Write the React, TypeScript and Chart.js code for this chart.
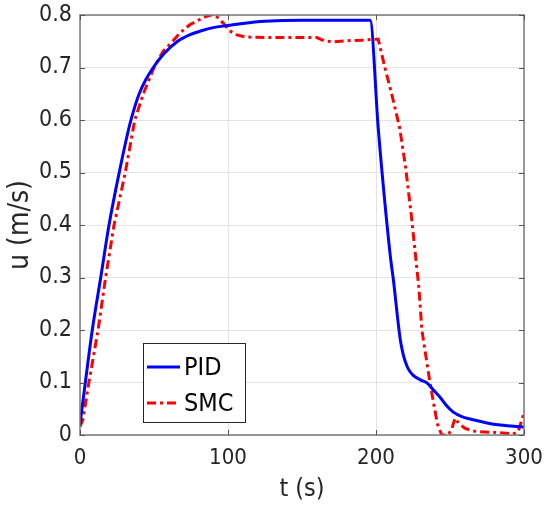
import React, { useEffect, useRef } from "react";
import { Chart, registerables } from "chart.js";

Chart.register(...registerables);

const tPID = [0, 3.6, 8.3, 14, 19.6, 26.5, 33.5, 37, 40, 44.5, 49.5, 57, 66, 74, 82, 90, 100, 110, 125, 150, 196, 201.6, 209.5, 212, 214.5, 216.5, 218.5, 220, 222, 225, 230, 235, 239, 243, 247, 252, 258, 265.7, 275, 284, 300];
const uPID = [0.02, 0.1, 0.2, 0.3, 0.4, 0.5, 0.59, 0.625, 0.65, 0.677, 0.7, 0.727, 0.75, 0.762, 0.77, 0.776, 0.78, 0.784, 0.788, 0.79, 0.79, 0.581, 0.345, 0.29, 0.225, 0.18, 0.152, 0.138, 0.125, 0.114, 0.105, 0.098, 0.085, 0.073, 0.058, 0.044, 0.035, 0.029, 0.023, 0.019, 0.015];

const tSMC = [0, 2, 6, 12.2, 17.3, 23, 30.6, 37, 42.8, 50, 56, 62.6, 68, 74, 80, 85, 89.5, 92, 96.6, 101, 106, 112, 130, 160, 165, 171, 180, 190, 201.5, 206, 211, 216, 220, 224, 226.5, 229, 231, 236.5, 241.4, 244.4, 248.6, 251, 253.4, 256, 260, 265, 270, 280, 292.6, 296, 300];
const uSMC = [0.016, 0.03, 0.1, 0.2, 0.3, 0.4, 0.5, 0.6, 0.65, 0.7, 0.73, 0.75, 0.767, 0.781, 0.79, 0.797, 0.801, 0.798, 0.785, 0.77, 0.762, 0.758, 0.757, 0.757, 0.751, 0.749, 0.751, 0.752, 0.754, 0.7, 0.645, 0.585, 0.51, 0.415, 0.347, 0.28, 0.2, 0.099, 0.022, 0, 0, 0.01, 0.032, 0.022, 0.013, 0.008, 0.006, 0.005, 0.002, 0.006, 0.042];

const xTicks = [0, 100, 200, 300];
const yTicks = [0, 0.1, 0.2, 0.3, 0.4, 0.5, 0.6, 0.7, 0.8];
const seriesNames = ["PID", "SMC"];
const xTitle = "t (s)";
const yTitle = "u (m/s)";

const FONT = "'DejaVu Sans Condensed', 'DejaVu Sans', sans-serif";

const framePlugin = {
  id: "frameLegend",
  afterDraw(chart: any) {
    const { ctx, chartArea: a } = chart;
    const xs = chart.scales.x;
    const ys = chart.scales.y;
    ctx.save();
    ctx.strokeStyle = "#7a7a7a";
    ctx.lineWidth = 1.5;
    ctx.strokeRect(a.left, a.top, a.right - a.left, a.bottom - a.top);
    ctx.strokeStyle = "#555";
    ctx.lineWidth = 1;
    ctx.beginPath();
    xTicks.forEach((v) => {
      const px = Math.round(xs.getPixelForValue(v)) + 0.5;
      ctx.moveTo(px, a.top);
      ctx.lineTo(px, a.top + 5);
      ctx.moveTo(px, a.bottom);
      ctx.lineTo(px, a.bottom - 5);
    });
    yTicks.forEach((v) => {
      const py = Math.round(ys.getPixelForValue(v)) + 0.5;
      ctx.moveTo(a.right, py);
      ctx.lineTo(a.right - 5, py);
      ctx.moveTo(a.left, py);
      ctx.lineTo(a.left + 5, py);
    });
    ctx.stroke();

    const bx = a.left + 63;
    const by = a.bottom - 92;
    const bw = 102;
    const bh = 79;
    ctx.fillStyle = "#ffffff";
    ctx.fillRect(bx, by, bw, bh);
    ctx.strokeStyle = "#262626";
    ctx.lineWidth = 1;
    ctx.strokeRect(bx + 0.5, by + 0.5, bw, bh);
    const ds = chart.data.datasets;
    ds.forEach((d: any, i: number) => {
      const cy = by + 24 + i * 36;
      ctx.beginPath();
      ctx.strokeStyle = d.borderColor;
      ctx.lineWidth = d.borderWidth;
      ctx.setLineDash(d.borderDash || []);
      ctx.moveTo(bx + 4, cy);
      ctx.lineTo(bx + 37, cy);
      ctx.stroke();
      ctx.setLineDash([]);
      ctx.fillStyle = "#000";
      ctx.font = `25px ${FONT}`;
      ctx.textBaseline = "middle";
      ctx.textAlign = "left";
      ctx.fillText(d.label, bx + 41, cy + 1);
    });
    ctx.restore();
  },
};

export default function App() {
  const ref = useRef<HTMLCanvasElement | null>(null);
  useEffect(() => {
    if (!ref.current) return;
    const chart = new Chart(ref.current, {
      type: "line",
      data: {
        datasets: [
          {
            label: seriesNames[0],
            data: tPID.map((t, i) => ({ x: t, y: uPID[i] })),
            borderColor: "#0000ff",
            borderWidth: 3,
            pointRadius: 0,
            cubicInterpolationMode: "monotone",
          },
          {
            label: seriesNames[1],
            data: tSMC.map((t, i) => ({ x: t, y: uSMC[i] })),
            borderColor: "#ff0000",
            borderWidth: 3,
            borderDash: [9, 4, 3, 4],
            pointRadius: 0,
            tension: 0,
          },
        ],
      },
      options: {
        animation: false,
        responsive: false,
        maintainAspectRatio: false,
        layout: { padding: { top: 15, right: 20, left: 0, bottom: 0 } },
        plugins: { legend: { display: false }, tooltip: { enabled: false } },
        scales: {
          x: {
            type: "linear",
            min: 0,
            max: 300,
            afterBuildTicks: (s: any) => {
              s.ticks = xTicks.map((v) => ({ value: v }));
            },
            afterFit: (s: any) => {
              s.height = 73;
              s.paddingLeft = 0;
              s.paddingRight = 0;
            },
            grid: { color: "#e3e3e3", drawTicks: false },
            border: { display: false },
            ticks: {
              color: "#262626",
              font: { family: FONT, size: 22 },
              padding: 10,
              maxRotation: 0,
            },
            title: {
              display: true,
              text: xTitle,
              color: "#262626",
              font: { family: FONT, size: 25 },
              padding: { top: 4, bottom: 4 },
            },
          },
          y: {
            type: "linear",
            min: 0,
            max: 0.8,
            afterBuildTicks: (s: any) => {
              s.ticks = yTicks.map((v) => ({ value: v }));
            },
            afterFit: (s: any) => {
              s.width = 80;
              s.paddingTop = 0;
              s.paddingBottom = 0;
            },
            grid: { color: "#e3e3e3", drawTicks: false },
            border: { display: false },
            ticks: {
              color: "#262626",
              font: { family: FONT, size: 23 },
              padding: 8,
              callback: (v: any) => String(Math.round(Number(v) * 10) / 10),
            },
            title: {
              display: true,
              text: yTitle,
              color: "#262626",
              font: { family: FONT, size: 28 },
              padding: { top: 4, bottom: 2 },
            },
          },
        },
      } as any,
      plugins: [framePlugin],
    });
    return () => chart.destroy();
  }, []);
  return (
    <div style={{ position: "fixed", left: 0, top: 0, width: 544, height: 508, background: "#fff" }}>
      <canvas ref={ref} width={544} height={508} style={{ width: 544, height: 508 }} />
    </div>
  );
}
